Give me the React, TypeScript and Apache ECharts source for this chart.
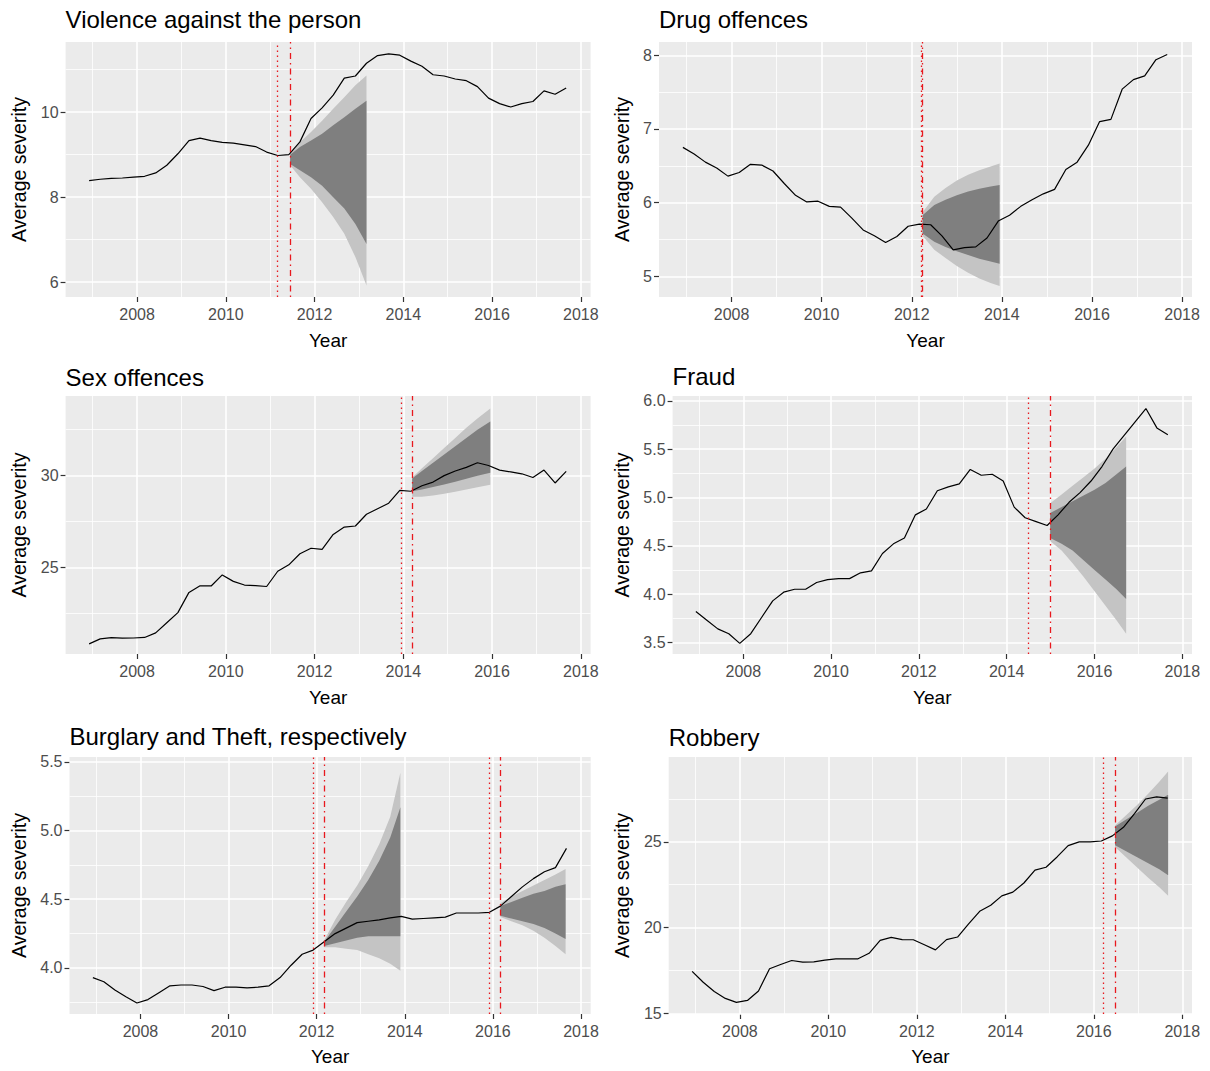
import React, { useEffect, useRef } from "react";
import * as echarts from "echarts";

// ---------- DATA ----------
const quarters = [
  2006.92, 2007.17, 2007.42, 2007.67, 2007.92, 2008.17, 2008.42, 2008.67, 2008.92, 2009.17, 2009.42,
  2009.67, 2009.92, 2010.17, 2010.42, 2010.67, 2010.92, 2011.17, 2011.42, 2011.67, 2011.92, 2012.17,
  2012.42, 2012.67, 2012.92, 2013.17, 2013.42, 2013.67, 2013.92, 2014.17, 2014.42, 2014.67, 2014.92,
  2015.17, 2015.42, 2015.67, 2015.92, 2016.17, 2016.42, 2016.67, 2016.92, 2017.17, 2017.42, 2017.67,
];

const violence = [
  8.39, 8.42, 8.44, 8.45, 8.47, 8.49, 8.57, 8.75, 9.02, 9.33, 9.39, 9.33, 9.29, 9.27, 9.23, 9.19, 9.06,
  8.98, 9.0, 9.3, 9.85, 10.1, 10.4, 10.8, 10.85, 11.15, 11.33, 11.37, 11.34, 11.2, 11.08, 10.88, 10.85,
  10.78, 10.74, 10.6, 10.33, 10.2, 10.12, 10.2, 10.25, 10.5, 10.42, 10.57,
];
const drugs = [
  6.75, 6.66, 6.55, 6.47, 6.36, 6.41, 6.52, 6.51, 6.43, 6.26, 6.1, 6.01, 6.02, 5.95, 5.94, 5.79, 5.63,
  5.55, 5.46, 5.54, 5.68, 5.71, 5.7, 5.55, 5.36, 5.39, 5.4, 5.52, 5.75, 5.83, 5.95, 6.04, 6.12, 6.18,
  6.45, 6.55, 6.78, 7.1, 7.13, 7.54, 7.67, 7.72, 7.94, 8.01,
];
const sex = [
  20.85, 21.12, 21.19, 21.16, 21.17, 21.2, 21.45, 22.0, 22.55, 23.65, 24.01, 24.0, 24.6, 24.25, 24.05,
  24.02, 23.97, 24.8, 25.15, 25.75, 26.05, 25.99, 26.8, 27.2, 27.26, 27.9, 28.2, 28.5, 29.2, 29.15,
  29.45, 29.65, 30.0, 30.25, 30.45, 30.7, 30.55, 30.3, 30.2, 30.1, 29.9, 30.3, 29.6, 30.23,
];
const fraud = [
  3.82, 3.73, 3.64, 3.59, 3.49, 3.59, 3.76, 3.93, 4.02, 4.05, 4.05, 4.12, 4.15, 4.16, 4.16, 4.22, 4.24,
  4.42, 4.52, 4.58, 4.82, 4.88, 5.07, 5.11, 5.14, 5.29, 5.23, 5.24, 5.17, 4.9, 4.79, 4.75, 4.71, 4.82,
  4.95, 5.05, 5.17, 5.32, 5.5, 5.64, 5.78, 5.92, 5.72, 5.65,
];
const burglaryTheft = [
  3.93, 3.9, 3.84, 3.79, 3.745, 3.77, 3.82, 3.87, 3.876, 3.876, 3.865, 3.835, 3.86, 3.86, 3.855, 3.86,
  3.87, 3.93, 4.02, 4.1, 4.13, 4.19, 4.25, 4.29, 4.33, 4.34, 4.35, 4.365, 4.375, 4.355, 4.36, 4.365,
  4.37, 4.4, 4.4, 4.4, 4.405, 4.45, 4.52, 4.59, 4.65, 4.7, 4.73, 4.87,
];
const robbery = [
  17.45, 16.81, 16.27, 15.87, 15.64, 15.75, 16.3, 17.6, 17.85, 18.08, 17.99, 18.0, 18.1, 18.17, 18.18,
  18.18, 18.5, 19.25, 19.43, 19.3, 19.29, 19.0, 18.7, 19.3, 19.45, 20.22, 20.95, 21.3, 21.85, 22.07,
  22.6, 23.35, 23.52, 24.12, 24.78, 25.0, 25.0, 25.05, 25.35, 25.85, 26.65, 27.5, 27.62, 27.55,
];

// fan charts: outer and inner prediction bands
const violenceFanYears = [2011.45, 2011.67, 2011.92, 2012.17, 2012.42, 2012.67, 2012.92, 2013.17];
const violenceOuterHi = [9.02, 9.29, 9.53, 9.8, 10.08, 10.35, 10.63, 10.86];
const violenceInnerHi = [9.0, 9.18, 9.33, 9.49, 9.69, 9.88, 10.08, 10.27];
const violenceInnerLo = [8.78, 8.63, 8.47, 8.27, 8.0, 7.73, 7.37, 6.9];
const violenceOuterLo = [8.75, 8.47, 8.2, 7.88, 7.53, 7.14, 6.59, 5.92];

const drugFanYears = [2012.24, 2012.5, 2012.75, 2013.0, 2013.25, 2013.5, 2013.75, 2013.95];
const drugOuterHi = [5.87, 6.08, 6.2, 6.3, 6.38, 6.44, 6.49, 6.53];
const drugInnerHi = [5.83, 5.97, 6.04, 6.1, 6.15, 6.19, 6.22, 6.24];
const drugInnerLo = [5.58, 5.47, 5.4, 5.34, 5.29, 5.24, 5.2, 5.17];
const drugOuterLo = [5.55, 5.36, 5.25, 5.14, 5.05, 4.97, 4.91, 4.87];

const sexFanYears = [2014.2, 2014.42, 2014.67, 2014.92, 2015.17, 2015.42, 2015.67, 2015.96];
const sexOuterHi = [29.9, 30.4, 30.95, 31.5, 32.05, 32.6, 33.1, 33.65];
const sexInnerHi = [29.85, 30.25, 30.7, 31.15, 31.6, 32.05, 32.5, 32.95];
const sexInnerLo = [29.15, 29.25, 29.38, 29.52, 29.67, 29.83, 30.0, 30.15];
const sexOuterLo = [28.85, 28.85, 28.92, 29.02, 29.12, 29.24, 29.37, 29.5];

const fraudFanYears = [2014.99, 2015.25, 2015.5, 2015.75, 2016.0, 2016.25, 2016.5, 2016.72];
const fraudOuterHi = [4.94, 5.03, 5.12, 5.21, 5.3, 5.4, 5.52, 5.63];
const fraudInnerHi = [4.84, 4.9, 4.96, 5.02, 5.08, 5.15, 5.24, 5.32];
const fraudInnerLo = [4.58, 4.52, 4.45, 4.35, 4.25, 4.15, 4.05, 3.95];
const fraudOuterLo = [4.55, 4.45, 4.32, 4.18, 4.03, 3.88, 3.73, 3.59];

const burglaryFanYears = [2012.17, 2012.42, 2012.67, 2012.92, 2013.17, 2013.42, 2013.67, 2013.9];
const burglaryOuterHi = [4.2, 4.35, 4.48, 4.6, 4.74, 4.9, 5.1, 5.42];
const burglaryInnerHi = [4.19, 4.3, 4.41, 4.52, 4.64, 4.78, 4.95, 5.17];
const burglaryInnerLo = [4.16, 4.18, 4.2, 4.22, 4.23, 4.23, 4.23, 4.23];
const burglaryOuterLo = [4.15, 4.15, 4.14, 4.13, 4.1, 4.07, 4.03, 3.98];

const theftFanYears = [2016.17, 2016.42, 2016.67, 2016.92, 2017.17, 2017.42, 2017.65];
const theftOuterHi = [4.47, 4.52, 4.56, 4.6, 4.64, 4.68, 4.72];
const theftInnerHi = [4.45, 4.48, 4.51, 4.54, 4.56, 4.59, 4.61];
const theftInnerLo = [4.38, 4.36, 4.34, 4.32, 4.29, 4.25, 4.21];
const theftOuterLo = [4.37, 4.34, 4.31, 4.27, 4.22, 4.16, 4.1];

const robberyFanYears = [2016.48, 2016.73, 2016.98, 2017.23, 2017.48, 2017.68];
const robberyOuterHi = [25.95, 26.55, 27.15, 27.8, 28.5, 29.1];
const robberyInnerHi = [25.9, 26.3, 26.7, 27.1, 27.45, 27.75];
const robberyInnerLo = [24.8, 24.45, 24.1, 23.75, 23.4, 23.05];
const robberyOuterLo = [24.7, 24.1, 23.5, 22.9, 22.35, 21.85];

// vertical reference lines
const violenceDotted = [2011.17];
const violenceDashDot = [2011.45];
const drugDotted = [2012.22];
const drugDashDot = [2012.24];
const sexDotted = [2013.96];
const sexDashDot = [2014.2];
const fraudDotted = [2014.49];
const fraudDashDot = [2014.99];
const burglaryDotted = [2011.93, 2015.92];
const burglaryDashDot = [2012.17, 2016.17];
const robberyDotted = [2016.22];
const robberyDashDot = [2016.48];

// ticks
const yearTicks = [2008, 2010, 2012, 2014, 2016, 2018];
const yearMinor = [2007, 2009, 2011, 2013, 2015, 2017];
const violenceTicks = [6, 8, 10];
const violenceMinor = [7, 9, 11];
const drugTicks = [5, 6, 7, 8];
const drugMinor = [5.5, 6.5, 7.5];
const sexTicks = [25, 30];
const sexMinor = [22.5, 27.5, 32.5];
const fraudTicks = [3.5, 4.0, 4.5, 5.0, 5.5, 6.0];
const fraudMinor = [3.75, 4.25, 4.75, 5.25, 5.75];
const burglaryTicks = [4.0, 4.5, 5.0, 5.5];
const burglaryMinor = [3.75, 4.25, 4.75, 5.25];
const robberyTicks = [15, 20, 25];
const robberyMinor = [17.5, 22.5, 27.5];

// ---------- LAYOUT / STYLE ----------
const FONT = "'Liberation Sans', Arial, Helvetica, sans-serif";
const X_MIN = 2006.39;
const X_MAX = 2018.22;
const LIGHT = "#c4c4c4";
const DARK = "#7f7f7f";
const RED = "#e8191e";

type Fan = { xs: number[]; oHi: number[]; iHi: number[]; iLo: number[]; oLo: number[] };
type Panel = {
  title: string;
  values: number[];
  yMin: number;
  yMax: number;
  yTicks: number[];
  yMinor: number[];
  decimals: number;
  fans: Fan[];
  dotted: number[];
  dashdot: number[];
  box: { left: number; top: number; width: number; height: number };
  titleY: number;
  yearY: number;
  yNameX: number;
};

const panels: Panel[] = [
  {
    title: "Violence against the person",
    values: violence,
    yMin: 5.65,
    yMax: 11.65,
    yTicks: violenceTicks,
    yMinor: violenceMinor,
    decimals: 0,
    fans: [{ xs: violenceFanYears, oHi: violenceOuterHi, iHi: violenceInnerHi, iLo: violenceInnerLo, oLo: violenceOuterLo }],
    dotted: violenceDotted,
    dashdot: violenceDashDot,
    box: { left: 65.6, top: 42, width: 525, height: 255 },
    titleY: 19.5,
    yearY: 340,
    yNameX: 19.3,
  },
  {
    title: "Drug offences",
    values: drugs,
    yMin: 4.72,
    yMax: 8.18,
    yTicks: drugTicks,
    yMinor: drugMinor,
    decimals: 0,
    fans: [{ xs: drugFanYears, oHi: drugOuterHi, iHi: drugInnerHi, iLo: drugInnerLo, oLo: drugOuterLo }],
    dotted: drugDotted,
    dashdot: drugDashDot,
    box: { left: 659, top: 42, width: 533, height: 255 },
    titleY: 19.5,
    yearY: 340,
    yNameX: 622.4,
  },
  {
    title: "Sex offences",
    values: sex,
    yMin: 20.3,
    yMax: 34.33,
    yTicks: sexTicks,
    yMinor: sexMinor,
    decimals: 0,
    fans: [{ xs: sexFanYears, oHi: sexOuterHi, iHi: sexInnerHi, iLo: sexInnerLo, oLo: sexOuterLo }],
    dotted: sexDotted,
    dashdot: sexDashDot,
    box: { left: 65.6, top: 396, width: 525, height: 258 },
    titleY: 377,
    yearY: 697,
    yNameX: 19.3,
  },
  {
    title: "Fraud",
    values: fraud,
    yMin: 3.38,
    yMax: 6.05,
    yTicks: fraudTicks,
    yMinor: fraudMinor,
    decimals: 1,
    fans: [{ xs: fraudFanYears, oHi: fraudOuterHi, iHi: fraudInnerHi, iLo: fraudInnerLo, oLo: fraudOuterLo }],
    dotted: fraudDotted,
    dashdot: fraudDashDot,
    box: { left: 672.6, top: 396, width: 519.4, height: 258 },
    titleY: 376,
    yearY: 697,
    yNameX: 622.4,
  },
  {
    title: "Burglary and Theft, respectively",
    values: burglaryTheft,
    yMin: 3.665,
    yMax: 5.535,
    yTicks: burglaryTicks,
    yMinor: burglaryMinor,
    decimals: 1,
    fans: [
      { xs: burglaryFanYears, oHi: burglaryOuterHi, iHi: burglaryInnerHi, iLo: burglaryInnerLo, oLo: burglaryOuterLo },
      { xs: theftFanYears, oHi: theftOuterHi, iHi: theftInnerHi, iLo: theftInnerLo, oLo: theftOuterLo },
    ],
    dotted: burglaryDotted,
    dashdot: burglaryDashDot,
    box: { left: 69.5, top: 757, width: 521.2, height: 257 },
    titleY: 736,
    yearY: 1056,
    yNameX: 19.3,
  },
  {
    title: "Robbery",
    values: robbery,
    yMin: 14.96,
    yMax: 29.95,
    yTicks: robberyTicks,
    yMinor: robberyMinor,
    decimals: 0,
    fans: [{ xs: robberyFanYears, oHi: robberyOuterHi, iHi: robberyInnerHi, iLo: robberyInnerLo, oLo: robberyOuterLo }],
    dotted: robberyDotted,
    dashdot: robberyDashDot,
    box: { left: 668.7, top: 757, width: 523.3, height: 257 },
    titleY: 737,
    yearY: 1056,
    yNameX: 622.4,
  },
];

function bandSeries(gi: number, xs: number[], lo: number[], hi: number[], color: string, z: number) {
  const data = xs.map((x, i) => [x, lo[i], hi[i]]);
  return {
    type: "custom",
    xAxisIndex: gi,
    yAxisIndex: gi,
    z,
    silent: true,
    clip: true,
    data,
    encode: { x: 0, y: [1, 2] },
    renderItem: (params: any, api: any) => {
      if (params.dataIndex !== 0) return null;
      const top = data.map((d) => api.coord([d[0], d[2]]));
      const bottom = data.map((d) => api.coord([d[0], d[1]])).reverse();
      return {
        type: "polygon",
        shape: { points: top.concat(bottom) },
        style: { fill: color, stroke: null },
      };
    },
  };
}

function buildOption() {
  const grid: any[] = [];
  const xAxis: any[] = [];
  const yAxis: any[] = [];
  const series: any[] = [];
  const graphic: any[] = [];

  panels.forEach((p, gi) => {
    grid.push({
      left: p.box.left,
      top: p.box.top,
      width: p.box.width,
      height: p.box.height,
      show: true,
      backgroundColor: "#EBEBEB",
      borderWidth: 0,
    });
    xAxis.push({
      type: "value",
      gridIndex: gi,
      min: X_MIN,
      max: X_MAX,
      axisLine: { show: false },
      splitLine: { show: false },
      axisTick: { show: true, customValues: yearTicks, length: 5, lineStyle: { color: "#333333", width: 1.2 } },
      axisLabel: {
        customValues: yearTicks,
        margin: 9,
        color: "#4d4d4d",
        fontSize: 16,
        fontFamily: FONT,
        formatter: (v: number) => String(Math.round(v)),
      },
    });
    yAxis.push({
      type: "value",
      gridIndex: gi,
      min: p.yMin,
      max: p.yMax,
      axisLine: { show: false },
      splitLine: { show: false },
      axisTick: { show: true, customValues: p.yTicks, length: 5, lineStyle: { color: "#333333", width: 1.2 } },
      axisLabel: {
        customValues: p.yTicks,
        margin: 7,
        color: "#4d4d4d",
        fontSize: 16,
        fontFamily: FONT,
        formatter: (v: number) => v.toFixed(p.decimals),
      },
    });

    const major = { color: "#ffffff", width: 1.6, type: "solid" };
    const minor = { color: "#ffffff", width: 0.8, type: "solid" };
    series.push({
      type: "line",
      xAxisIndex: gi,
      yAxisIndex: gi,
      data: [],
      silent: true,
      z: 1,
      markLine: {
        silent: true,
        z: 1,
        symbol: ["none", "none"],
        label: { show: false },
        emphasis: { disabled: true },
        lineStyle: { type: "solid", color: "#fff" },
        data: [
          ...yearMinor.map((v) => ({ xAxis: v, lineStyle: minor })),
          ...p.yMinor.map((v) => ({ yAxis: v, lineStyle: minor })),
          ...yearTicks.map((v) => ({ xAxis: v, lineStyle: major })),
          ...p.yTicks.map((v) => ({ yAxis: v, lineStyle: major })),
        ],
      },
    });

    p.fans.forEach((f) => {
      series.push(bandSeries(gi, f.xs, f.oLo, f.oHi, LIGHT, 2));
      series.push(bandSeries(gi, f.xs, f.iLo, f.iHi, DARK, 3));
    });

    series.push({
      type: "line",
      xAxisIndex: gi,
      yAxisIndex: gi,
      data: quarters.map((x, k) => [x, p.values[k]]),
      symbol: "none",
      silent: true,
      z: 4,
      lineStyle: { color: "#000000", width: 1.2 },
      markLine: {
        silent: true,
        z: 6,
        symbol: ["none", "none"],
        label: { show: false },
        emphasis: { disabled: true },
        data: [
          ...p.dotted.map((v) => ({ xAxis: v, lineStyle: { color: RED, width: 1.3, type: [1.5, 3.5] } })),
          ...p.dashdot.map((v) => ({ xAxis: v, lineStyle: { color: RED, width: 1.3, type: [1.5, 4, 6, 4] } })),
        ],
      },
    });

    const txt = (text: string, x: number, y: number, size: number, align: string, rot = 0) => ({
      type: "text",
      x,
      y,
      rotation: rot,
      silent: true,
      z: 10,
      style: {
        text,
        fill: "#000000",
        fontSize: size,
        fontFamily: FONT,
        textAlign: align,
        textVerticalAlign: "middle",
        align,
        verticalAlign: "middle",
      },
    });
    graphic.push(txt(p.title, p.box.left, p.titleY, 24, "left"));
    graphic.push(txt("Year", p.box.left + p.box.width / 2, p.yearY, 19, "center"));
    graphic.push(txt("Average severity", p.yNameX, p.box.top + p.box.height / 2, 19.5, "center", Math.PI / 2));
  });

  return {
    animation: false,
    backgroundColor: "#ffffff",
    grid,
    xAxis,
    yAxis,
    series,
    graphic,
  };
}

export default function App() {
  const ref = useRef<HTMLDivElement>(null);
  useEffect(() => {
    if (!ref.current) return;
    const chart = echarts.init(ref.current, undefined, { renderer: "svg", width: 1210, height: 1071 });
    chart.setOption(buildOption() as any);
    return () => chart.dispose();
  }, []);
  return (
    <div
      ref={ref}
      style={{ position: "absolute", left: 0, top: 0, width: 1210, height: 1071, background: "#ffffff" }}
    />
  );
}
